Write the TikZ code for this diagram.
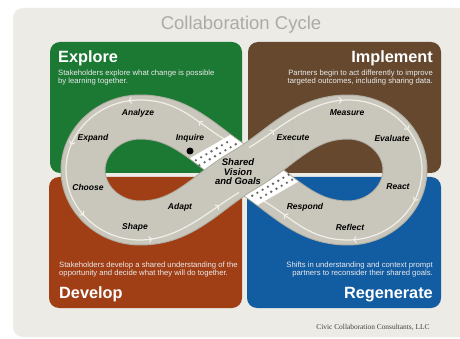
\documentclass[tikz,border=0pt]{standalone}
\usepackage{fontspec}
\setmainfont{Liberation Sans}
\newfontfamily\footfont{Liberation Serif}
\usepackage{tikz}
\usetikzlibrary{arrows.meta,decorations.markings}
\definecolor{cardc}{RGB}{236,235,230}
\definecolor{explc}{RGB}{28,121,52}
\definecolor{implc}{RGB}{101,72,46}
\definecolor{devc}{RGB}{160,62,22}
\definecolor{regc}{RGB}{18,92,162}
\definecolor{bandc}{RGB}{201,199,187}
\definecolor{rimc}{RGB}{176,174,162}
\definecolor{flowc}{RGB}{240,239,234}
\definecolor{titlec}{RGB}{172,172,165}
\definecolor{dotc}{RGB}{105,105,103}
% centre line of the figure eight, crossing at (244,170)
\newcommand\figureeight{(244,170) .. controls (205,147.5) and (185,117) .. (140,117)
  .. controls (109,117) and (83,141) .. (83,170) .. controls (83,199) and (109,223) .. (140,223)
  .. controls (185,223) and (205,192.5) .. (244,170) .. controls (283,147.5) and (303,117) .. (348,117)
  .. controls (379,117) and (405,141) .. (405,170) .. controls (405,199) and (379,223) .. (348,223)
  .. controls (303,223) and (283,192.5) .. (244,170) -- cycle}

\begin{document}
\begin{tikzpicture}[x=1pt,y=-1pt,line join=round,
  panel/.style={rounded corners=10pt},
  head/.style={font=\fontsize{16.3}{16}\selectfont\bfseries,text=white,inner sep=0pt},
  desc/.style={font=\fontsize{7.7}{8.7}\selectfont,text=white!92!black,inner sep=0pt},
  lbl/.style={font=\fontsize{8.5}{9}\selectfont\bfseries\itshape,inner sep=0pt},
  flow/.style={flowc,line width=1.2pt,postaction={decorate},decoration={markings,
    mark=between positions 0.07 and 0.97 step 0.175 with {\arrow{Straight Barb[length=2.5pt,width=6pt,line width=1.1pt]}}}}]
  \useasboundingbox (0,0) rectangle (460,339);
  \fill[cardc,rounded corners=10pt] (13,8) rectangle (475,337);
  \node[font=\fontsize{18.5}{19}\selectfont,text=titlec] (title) at (241,25) {Collaboration Cycle};

  % the four stage panels
  \fill[explc,panel] (50,42) rectangle (242,173);
  \fill[implc,panel] (248,42) rectangle (441,173);
  \fill[devc,panel] (49,177) rectangle (242,308);
  \fill[regc,panel] (247,177) rectangle (441,308);
  \node[head,anchor=base west] (explore) at (58,63) {Explore};
  \node[head,anchor=base east] (implement) at (433,63) {Implement};
  \node[head,anchor=base west] (develop) at (59,298) {Develop};
  \node[head,anchor=base east] (regenerate) at (433,298) {Regenerate};
  \node[desc,anchor=north west,align=left] (exploretxt) at (58,69.5) {Stakeholders explore what change is possible\\by learning together.};
  \node[desc,anchor=north east,align=right] (implementtxt) at (433,69.5) {Partners begin to act differently to improve\\targeted outcomes, including sharing data.};
  \node[desc,anchor=north west,align=left] (developtxt) at (59,261.5) {Stakeholders develop a shared understanding of the\\opportunity and decide what they will do together.};
  \node[desc,anchor=north east,align=right] (regeneratetxt) at (433,261.5) {Shifts in understanding and context prompt\\partners to reconsider their shared goals.};

  % band
  \draw[rimc,line width=45pt] \figureeight;
  \draw[bandc,line width=43pt] \figureeight;

  % dotted strips where the band passes under
  \begin{scope}
    \clip (258.7,143.5) -- (237.1,131) -- (176.5,166) -- (198.1,178.5) -- cycle;
    \draw[white,line width=43pt] (244,170) .. controls (205,147.5) and (185,117) .. (140,117);
  \end{scope}
  \begin{scope}
    \clip (229.3,196.5) -- (250.9,209) -- (311.5,174) -- (289.9,161.5) -- cycle;
    \draw[white,line width=43pt] (348,223) .. controls (303,223) and (283,192.5) .. (244,170);
  \end{scope}
  \begin{scope}[shift={(244,170)},x={(-0.866pt,0.5pt)},y={(0.866pt,0.5pt)}]
    \foreach \b in {-21,-15,...,21} \fill[dotc] (30.5,\b) circle (1.3pt) (-30.5,-\b) circle (1.3pt);
    \foreach \b in {-18,-12,...,18} \fill[dotc] (37.5,\b) circle (1.3pt) (-37.5,-\b) circle (1.3pt);
  \end{scope}

  % band on top at the crossing
  \begin{scope}
    \clip (196,120) rectangle (292,220);
    \draw[rimc,line width=45pt] (140,223) .. controls (185,223) and (205,192.5) .. (244,170) .. controls (283,147.5) and (303,117) .. (348,117);
    \draw[bandc,line width=43pt] (140,223) .. controls (185,223) and (205,192.5) .. (244,170) .. controls (283,147.5) and (303,117) .. (348,117);
  \end{scope}

  % flow lines
  \draw[flow] (223.8,138.7) .. controls (198,124) and (180,100) .. (140,100) .. controls (99,100) and (66,132) .. (66,170)
    .. controls (66,208) and (99,240) .. (140,240) .. controls (180,240) and (213,207.5) .. (239,192.5);
  \draw[flow] (249,147.5) .. controls (275,132.5) and (308,100) .. (348,100) .. controls (389,100) and (422,132) .. (422,170)
    .. controls (422,208) and (389,240) .. (348,240) .. controls (308,240) and (290,216) .. (264.2,201.3);
  \fill (190,151) circle (3.5pt);

  % step labels
  \node[lbl] (analyze) at (138,113) {Analyze};
  \node[lbl] (expand) at (93,138) {Expand};
  \node[lbl] (inquire) at (190,138) {Inquire};
  \node[lbl] (choose) at (88,187) {Choose};
  \node[lbl] (adapt) at (180,207) {Adapt};
  \node[lbl] (shape) at (135,227) {Shape};
  \node[lbl] (measure) at (347,113) {Measure};
  \node[lbl] (execute) at (293,138) {Execute};
  \node[lbl] (evaluate) at (392,138) {Evaluate};
  \node[lbl] (react) at (398,187) {React};
  \node[lbl] (respond) at (305,207) {Respond};
  \node[lbl] (reflect) at (350,227) {Reflect};
  \node[lbl,font=\fontsize{9.5}{9.5}\selectfont\bfseries\itshape,align=center] (goals) at (238,172) {Shared\\Vision\\and Goals};

  \node[font=\footfont\fontsize{7.4}{8}\selectfont,text=black!75,anchor=east] (credit) at (433,327) {Civic Collaboration Consultants, LLC};
\end{tikzpicture}
\end{document}
